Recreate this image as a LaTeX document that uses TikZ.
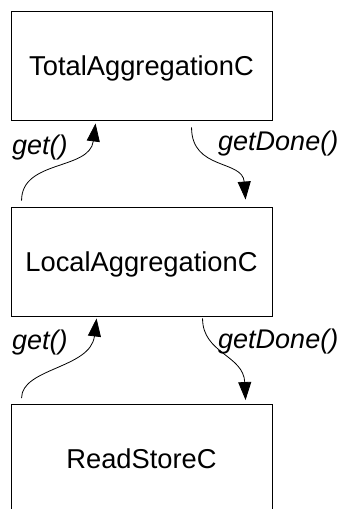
\documentclass[tikz,border=0pt]{standalone}
\usepackage{fontspec}
\setmainfont{Liberation Sans}
\usetikzlibrary{arrows.meta}
\begin{document}
\begin{tikzpicture}[x=1pt,y=-1pt,
  comp/.style={draw=black, line width=0.9pt, minimum width=261pt, minimum height=109pt,
    inner sep=0pt, font=\fontsize{27.3}{30}\selectfont, text height=19.5pt, text depth=0pt},
  call/.style={line width=0.8pt, -{Triangle[length=18pt,width=13pt]}},
  lbl/.style={font=\fontsize{27}{30}\selectfont\itshape, inner sep=0pt, anchor=base west}]
\clip (0,0) rectangle (341,509);
\fill[white] (0,0) rectangle (341,509);

% components
\node[comp] (total) at (141.5,65.5) {TotalAggregationC};
\node[comp] (local) at (141.5,261.5) {LocalAggregationC};
\node[comp] (read)  at (141.5,459)  {ReadStoreC};

% calls between Total and Local
\draw[call] ([xshift=11pt,yshift=6pt]local.north west)
  .. controls +(0,-41) and +(-6,47) .. ([xshift=85pt,yshift=-3pt]total.south west);
\draw[call] ([xshift=181pt,yshift=-7pt]total.south west)
  .. controls +(0,43) and +(-3,-40) .. ([xshift=235pt,yshift=7pt]local.north west);
\node[lbl] (get1)  at (12,154)  {get()};
\node[lbl] (done1) at (218,150) {getDone()};

% calls between Local and ReadStore
\draw[call] ([xshift=11pt,yshift=6pt]read.north west)
  .. controls +(0,-30) and +(-6,50) .. ([xshift=86pt,yshift=-2pt]local.south west);
\draw[call] ([xshift=192pt,yshift=-2pt]local.south west)
  .. controls +(0,35) and +(-2,-45) .. ([xshift=235pt,yshift=4pt]read.north west);
\node[lbl] (get2)  at (12,349)  {get()};
\node[lbl] (done2) at (218,348) {getDone()};
\end{tikzpicture}
\end{document}
